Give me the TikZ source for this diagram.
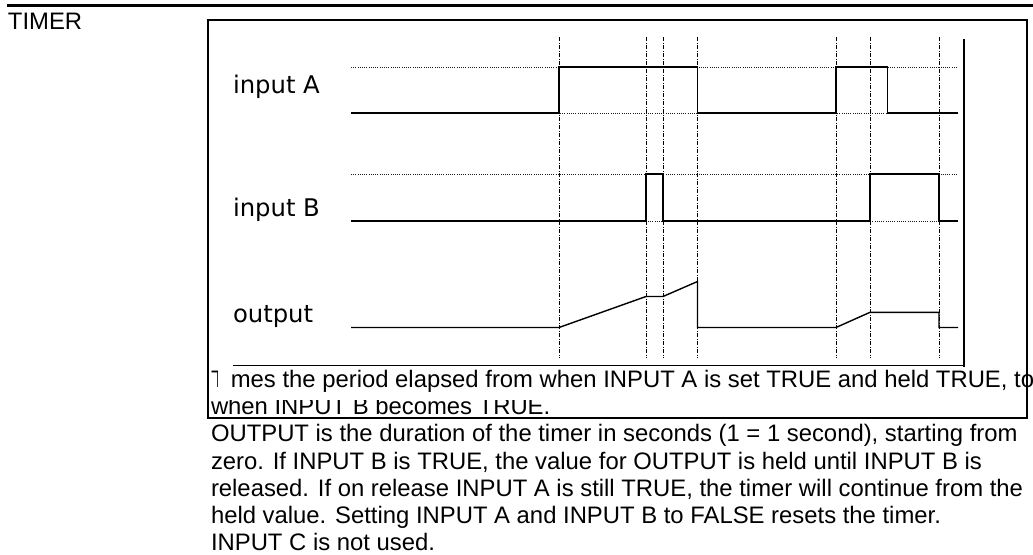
\documentclass[tikz,border=0pt]{standalone}
\usepackage{fontspec}
\setmainfont{Liberation Sans}
\newfontfamily\lblfont{DejaVu Sans}
\newcommand\bodyfont{\fontsize{23.85}{27.4}\selectfont}
\newcommand\lblsize{\lblfont\fontsize{24.3}{28}\selectfont}
\begin{document}
\begin{tikzpicture}[x=1pt,y=-1pt,
  body/.style={inner sep=0pt, outer sep=0pt, anchor=base west, font=\bodyfont},
  lbl/.style={inner sep=0pt, outer sep=0pt, anchor=base west, font=\lblsize},
  frameline/.style={line width=2pt, line cap=rect},
  sig/.style={line width=1.4pt, line join=miter},
  refline/.style={line width=0.9pt, dash pattern=on 1pt off 1.2pt, black!90},
  markline/.style={line width=0.9pt, dash pattern=on 4pt off 1.5pt on 1pt off 1.5pt}]
\useasboundingbox (0,0) rectangle (1033,554);
\fill[white] (0,0) rectangle (1033,554);

% top rule and title
\draw[line width=2.2pt] (7,5.5) -- (1033,5.5);
\node[body] (title) at (8,29.3) {TIMER};

% dotted reference levels
\foreach \yy in {67,113,174,221}
  \draw[refline] (351,\yy) -- (958,\yy);

% dash-dot event markers
\foreach \xx in {559,646,663,697.5,836,870,939}
  \draw[markline] (\xx,37) -- (\xx,358);

% labels
\node[lbl] (la) at (233,93) {input A};
\node[lbl] (lb) at (233,216) {input B};
\node[lbl] (lo) at (233,322.5) {output};

% waveforms
\draw[sig] (351,113) -- (559,113) -- (559,67) -- (697.5,67) -- (697.5,113)
  -- (836,113) -- (836,67) -- (887.7,67) -- (887.7,113) -- (958,113);
\draw[sig] (351,221) -- (646,221) -- (646,174) -- (663,174) -- (663,221)
  -- (870,221) -- (870,174) -- (939,174) -- (939,221) -- (958,221);
\draw[sig] (351,327.5) -- (559,327.5) -- (646,296.5) -- (663,296.5)
  -- (697.5,281.5) -- (697.5,327.5) -- (836,327.5) -- (870,312.3)
  -- (939,312.3) -- (939,327.5) -- (958,327.5);

% inner frame pieces
\draw[line width=2.4pt] (964,39) -- (964,366.5);
\draw[line width=1.6pt] (233,365.5) -- (965.2,365.5);

% description text
\node[body] (l1) at (211,387) {T\phantom{i}mes the period elapsed from when INPUT A is set TRUE and held TRUE, to};
\fill[white] (218.3,368) rectangle (227,392);
\begin{scope}
  \clip (205,400.5) rectangle (1033,417);
  \node[body] (l2) at (211,414.4) {when INPUT B becomes TRUE.};
\end{scope}
\node[body] (l3) at (211,441.6) {OUTPUT is the duration of the timer in seconds (1 = 1 second), starting from};
\node[body] (l4) at (211,469.0) {zero. If INPUT B is TRUE, the value for OUTPUT is held until INPUT B is};
\node[body] (l5) at (211,496.4) {released. If on release INPUT A is still TRUE, the timer will continue from the};
\node[body] (l6) at (211,523.8) {held value. Setting INPUT A and INPUT B to FALSE resets the timer.};
\node[body, text depth=0pt] (l7) at (211,550.5) {INPUT C is not used.};

% outer box
\draw[frameline] (208,20) rectangle (1027,417.5);
\end{tikzpicture}
\end{document}
